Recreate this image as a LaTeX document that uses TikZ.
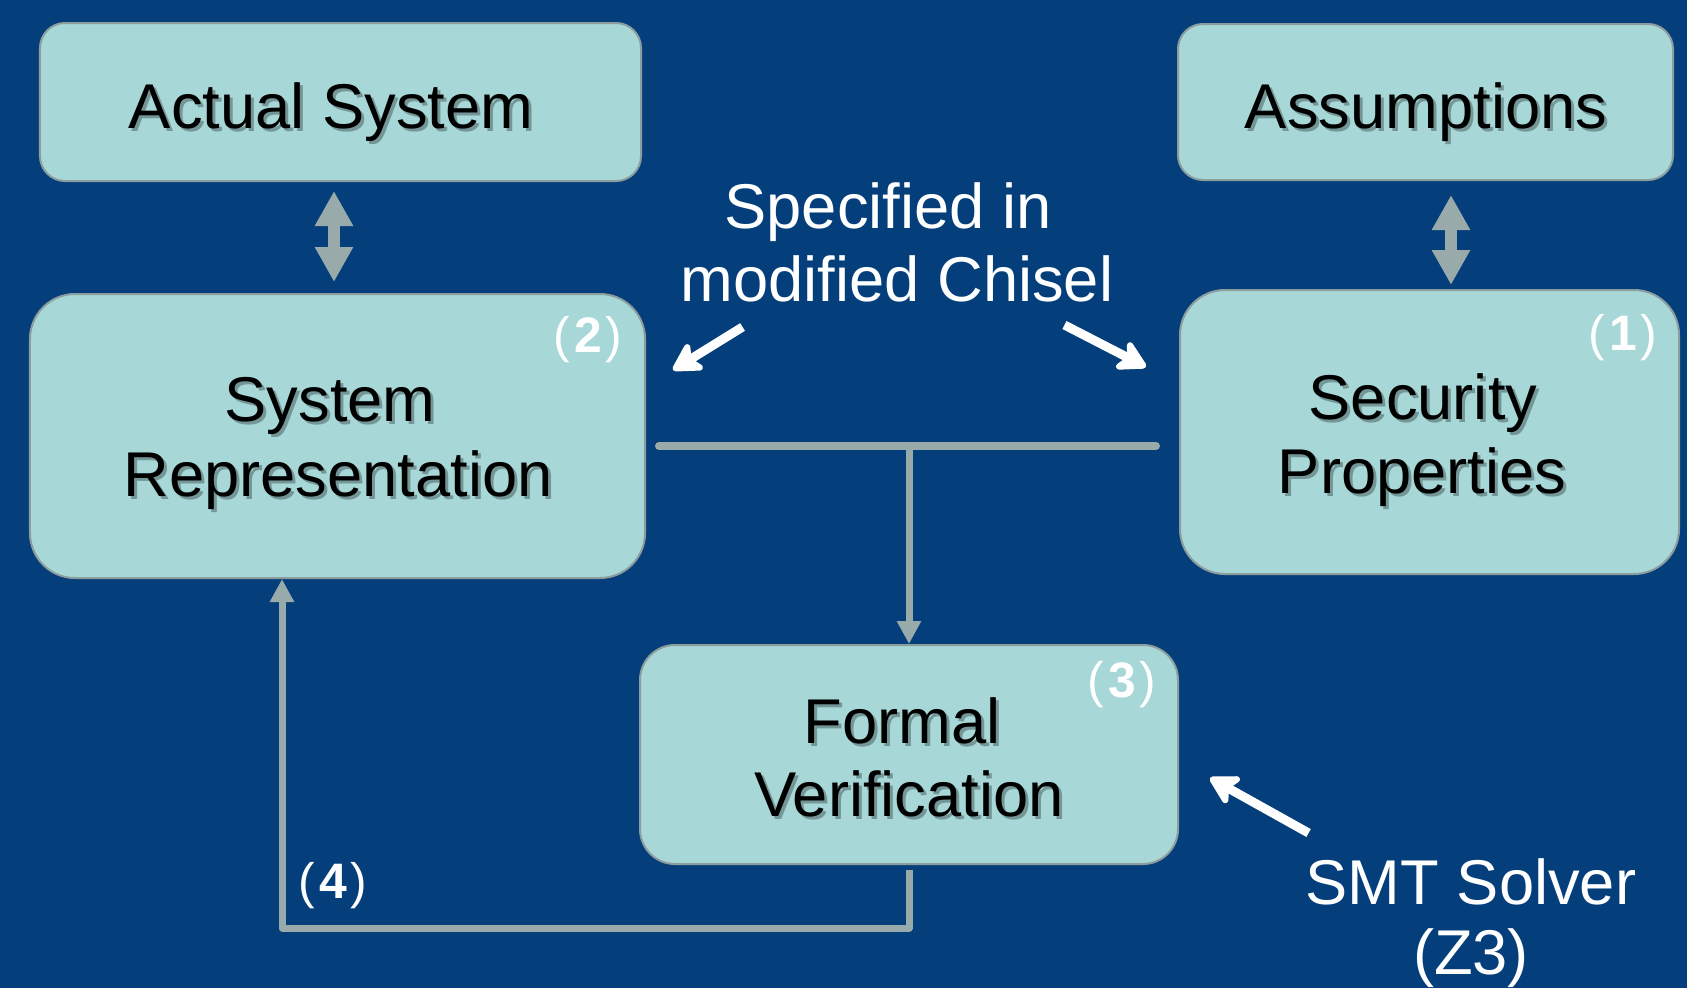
\documentclass[tikz,border=0pt]{standalone}
\usepackage{fontspec}
\setmainfont{Liberation Sans}
\usetikzlibrary{arrows.meta,calc}

\definecolor{bg}{HTML}{043E7B}
\definecolor{boxfill}{HTML}{A7D7D7}
\definecolor{boxline}{HTML}{8C9D9D}
\definecolor{conn}{HTML}{99AAAA}

\tikzset{
  box/.style={draw=boxline, line width=2bp, fill=boxfill, inner sep=0pt},
  big/.style={font=\fontsize{63.5}{75}\selectfont, anchor=base, inner sep=0pt},
  dark/.style={big, text=black},
  drop/.style={big, text=black, text opacity=0.3},
  light/.style={big, text=white},
  tag/.style={font=\fontsize{50}{54}\selectfont, text=white, anchor=base, inner sep=0pt},
  gconn/.style={draw=conn, line width=7bp, line join=round},
  tip/.style={-{Triangle[length=23bp,width=23bp]}},
  dblarr/.style={draw=conn, line width=12bp,
    {Triangle[length=35bp,width=36bp]}-{Triangle[length=35bp,width=36bp]}},
  warrow/.style={draw=white, line width=9bp,
    -{Stealth[length=34bp,width=38bp,inset=9bp,round]}},
}

% black caption with a soft drop shadow
\newcommand\boxcaption[3]{%
  \node[drop] (#2-sh) at ($(#1)+(3,3)$) {#3};
  \node[dark] (#2) at (#1) {#3};}
\newcommand\stepnum[1]{\hspace{4bp}\textbf{#1}\hspace{4bp}}

\begin{document}
\begin{tikzpicture}[x=1bp,y=-1bp]
\fill[bg] (0,0) rectangle (1687,988);
\useasboundingbox (0,0) rectangle (1687,988);

% boxes
\node[box, rounded corners=25bp, minimum width=601bp, minimum height=158bp] (as)  at (340.5,102) {};
\node[box, rounded corners=25bp, minimum width=495bp, minimum height=156bp] (asm) at (1425.5,102) {};
\node[box, rounded corners=45bp, minimum width=615bp, minimum height=284bp] (sr)  at (337.5,436) {};
\node[box, rounded corners=45bp, minimum width=499bp, minimum height=284bp] (sp)  at (1429.5,432) {};
\node[box, rounded corners=35bp, minimum width=538bp, minimum height=219bp] (fv)  at (909,754.5) {};

% captions
\boxcaption{331,128}{t-as}{Actual System}
\boxcaption{1426,128}{t-asm}{Assumptions}
\boxcaption{330,421}{t-sr1}{System}
\boxcaption{338,496}{t-sr2}{Representation}
\boxcaption{1423,419}{t-sp1}{Security}
\boxcaption{1422,493}{t-sp2}{Properties}
\boxcaption{902,743}{t-fv1}{Formal}
\boxcaption{909,816}{t-fv2}{Verification}

\node[light] (spec1) at (888,228) {Specified in};
\node[light] (spec2) at (897,301) {modified Chisel};
\node[light] (smt1) at (1471,904) {SMT Solver};
\node[light] (smt2) at (1471,974) {(Z3)};

% step numbers
\node[tag] (n2) at (588,352) {(\stepnum{2})};
\node[tag] (n1) at (1623,350) {(\stepnum{1})};
\node[tag] (n3) at (1122,697) {(\stepnum{3})};
\node[tag] (n4) at (333,898) {(\stepnum{4})};

% two-way links to the top boxes
\draw[dblarr] ($(as.south)+(-6.5,9)$) -- ($(sr.north)+(-3.5,-11)$);
\draw[dblarr] ($(asm.south)+(25.5,14)$) -- ($(sp.north)+(21.5,-4)$);

% joining bar and link down to verification
\coordinate (tl) at ($(sr.east)+(13,10)$);
\coordinate (tr) at ($(sp.west)+(-23,14)$);
\draw[gconn, line width=8bp, line cap=round] (tl) -- (tr);
\draw[gconn, tip] (tl -| fv.north) -- (fv.north);

% feedback loop
\draw[gconn, tip] ($(fv.south)+(0,5)$) -- ++(0,58) -| ($(sr.south)+(-55.5,0)$);

% white pointers
\draw[warrow] ($(spec2.base west)+(62,26)$) -- ($(sr.north east)+(27,77)$);
\draw[warrow] ($(spec2.base east)+(-49,24)$) -- ($(sp.north west)+(-33,78)$);
\draw[warrow] ($(smt1.base west)+(3,-71)$) -- ($(fv.east)+(31,23.5)$);
\end{tikzpicture}
\end{document}
